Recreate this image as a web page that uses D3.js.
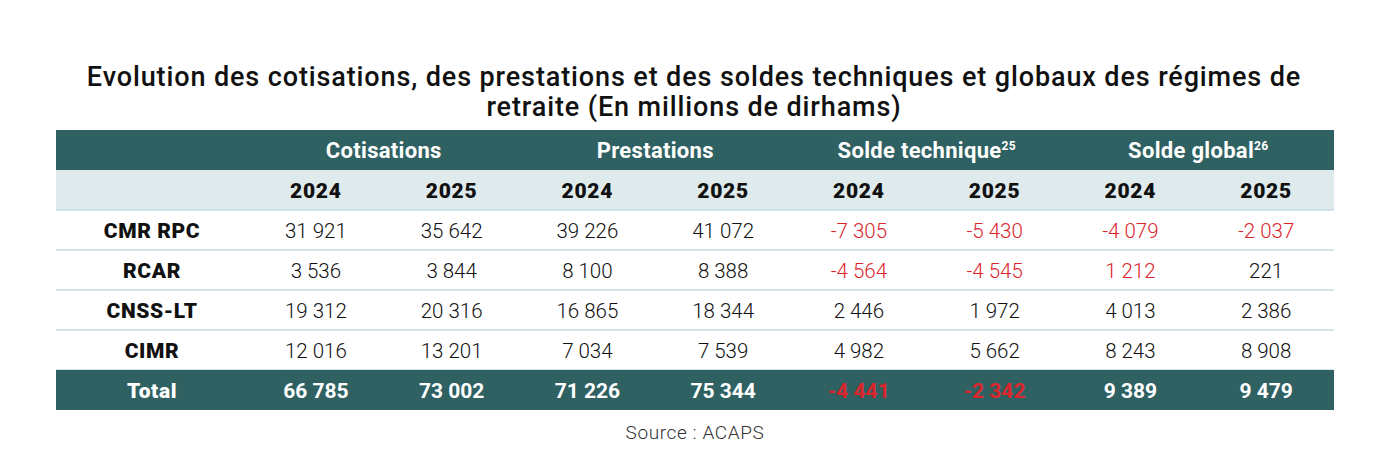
<!DOCTYPE html>
<html>
<head>
<meta charset="utf-8">
<title>Régimes de retraite</title>
<script src="https://cdn.jsdelivr.net/npm/d3@7"></script>
<style>
  body { margin: 0; background: #fff; }
  text { font-family: Roboto, "Noto Sans", sans-serif; }
</style>
</head>
<body>
<script>
// données (millions de dirhams)
var regimes = ["CMR RPC", "RCAR", "CNSS-LT", "CIMR"];
var groupes = ["Cotisations", "Prestations", "Solde technique", "Solde global"];
var notes = ["", "", "25", "26"];
var annees = ["2024", "2025"];

var cotisations2024 = [31921, 3536, 19312, 12016];
var cotisations2025 = [35642, 3844, 20316, 13201];
var prestations2024 = [39226, 8100, 16865, 7034];
var prestations2025 = [41072, 8388, 18344, 7539];
var soldeTech2024 = [-7305, -4564, 2446, 4982];
var soldeTech2025 = [-5430, -4545, 1972, 5662];
var soldeGlobal2024 = [-4079, 1212, 4013, 8243];
var soldeGlobal2025 = [-2037, 221, 2386, 8908];

var totaux = [66785, 73002, 71226, 75344, -4441, -2342, 9389, 9479];
// RCAR solde global 2024 est en rouge dans le tableau d'origine
var rougeForce = [[1, 6]];

var titre = ["Evolution des cotisations, des prestations et des soldes techniques et globaux des régimes de",
             "retraite (En millions de dirhams)"];
var source = "Source : ACAPS";

var colonnes = [cotisations2024, cotisations2025, prestations2024, prestations2025,
                soldeTech2024, soldeTech2025, soldeGlobal2024, soldeGlobal2025];

var width = 1384, height = 454;
var left = 56, right = 1334, labelW = 192;
var dark = "#2f6163", light = "#deeaeb", rouge = "#dc262c", ligne = "#c6dde0";

var fr = d3.formatLocale({decimal: ",", thousands: " ", grouping: [3], currency: ["", ""], minus: "-"});
var fmt = fr.format(",d");

var svg = d3.select("body").append("svg")
    .attr("width", width)
    .attr("height", height);

// échelles
var x = d3.scaleBand().domain(d3.range(8)).range([left + labelW, right]);
var xg = d3.scaleBand().domain(d3.range(4)).range([left + labelW, right]);
var lignes = regimes.concat(["Total"]);
var y = d3.scaleBand().domain(lignes).range([210, 410]);

// titre
svg.selectAll("text.titre")
    .data(titre)
    .enter().append("text")
    .attr("class", "titre")
    .attr("x", width / 2 + 2)
    .attr("y", function(d, i) { return 86 + i * 30; })
    .attr("text-anchor", "middle")
    .attr("font-size", 27)
    .attr("font-weight", 500)
    .attr("letter-spacing", 0.88)
    .attr("fill", "#111")
    .text(function(d) { return d; });

// bandeaux d'en-tête
svg.append("rect").attr("x", left).attr("y", 130).attr("width", right - left).attr("height", 40).attr("fill", dark);
svg.append("rect").attr("x", left).attr("y", 170).attr("width", right - left).attr("height", 40).attr("fill", light);

var g = svg.selectAll("text.groupe")
    .data(groupes)
    .enter().append("text")
    .attr("class", "groupe")
    .attr("x", function(d, i) { return xg(i) + xg.bandwidth() / 2; })
    .attr("y", 158)
    .attr("text-anchor", "middle")
    .attr("font-size", 22)
    .attr("font-weight", 700)
    .attr("letter-spacing", 0.3)
    .attr("fill", "#fff");
g.append("tspan").text(function(d) { return d; });
g.append("tspan")
    .attr("font-size", 12)
    .attr("dy", -8)
    .text(function(d, i) { return notes[i]; });

svg.selectAll("text.annee")
    .data(d3.range(8))
    .enter().append("text")
    .attr("class", "annee")
    .attr("x", function(d) { return x(d) + x.bandwidth() / 2; })
    .attr("y", 198)
    .attr("text-anchor", "middle")
    .attr("font-size", 21)
    .attr("font-weight", 900)
    .attr("letter-spacing", 0.8)
    .attr("fill", "#111")
    .text(function(d) { return annees[d % 2]; });

// lignes de séparation
svg.selectAll("line.sep")
    .data(regimes)
    .enter().append("line")
    .attr("class", "sep")
    .attr("x1", left).attr("x2", right)
    .attr("y1", function(d) { return y(d) + y.bandwidth(); })
    .attr("y2", function(d) { return y(d) + y.bandwidth(); })
    .attr("stroke", ligne)
    .attr("stroke-width", 1.5);
svg.append("line")
    .attr("x1", left).attr("x2", right)
    .attr("y1", 210).attr("y2", 210)
    .attr("stroke", ligne).attr("stroke-width", 1.5);

// bandeau total
svg.append("rect")
    .attr("x", left).attr("y", y("Total"))
    .attr("width", right - left).attr("height", y.bandwidth())
    .attr("fill", dark);

// libellés des lignes
svg.selectAll("text.regime")
    .data(lignes)
    .enter().append("text")
    .attr("class", "regime")
    .attr("x", left + 96)
    .attr("y", function(d) { return y(d) + y.bandwidth() / 2 + 8; })
    .attr("text-anchor", "middle")
    .attr("font-size", 21)
    .attr("font-weight", 900)
    .attr("letter-spacing", 0.6)
    .attr("fill", function(d) { return d === "Total" ? "#fff" : "#111"; })
    .text(function(d) { return d; });

// cellules
var cellules = [];
regimes.forEach(function(r, i) {
  colonnes.forEach(function(col, j) {
    var forced = rougeForce.some(function(p) { return p[0] === i && p[1] === j; });
    cellules.push({ligne: r, col: j, v: col[i], rouge: col[i] < 0 || forced, total: false});
  });
});
totaux.forEach(function(v, j) {
  cellules.push({ligne: "Total", col: j, v: v, rouge: v < 0, total: true});
});

svg.selectAll("text.val")
    .data(cellules)
    .enter().append("text")
    .attr("class", "val")
    .attr("x", function(d) { return x(d.col) + x.bandwidth() / 2; })
    .attr("y", function(d) { return y(d.ligne) + y.bandwidth() / 2 + 7.5; })
    .attr("text-anchor", "middle")
    .attr("font-size", function(d) { return d.total ? 21 : 20.5; })
    .attr("font-weight", function(d) { return d.total ? 700 : 300; })
    .attr("fill", function(d) { return d.rouge ? rouge : (d.total ? "#fff" : "#111"); })
    .text(function(d) { return fmt(d.v); });

// source
svg.append("text")
    .attr("x", 695)
    .attr("y", 439)
    .attr("text-anchor", "middle")
    .attr("font-size", 19)
    .attr("font-weight", 300)
    .attr("letter-spacing", 0.6)
    .attr("fill", "#333")
    .text(source);
</script>
</body>
</html>
